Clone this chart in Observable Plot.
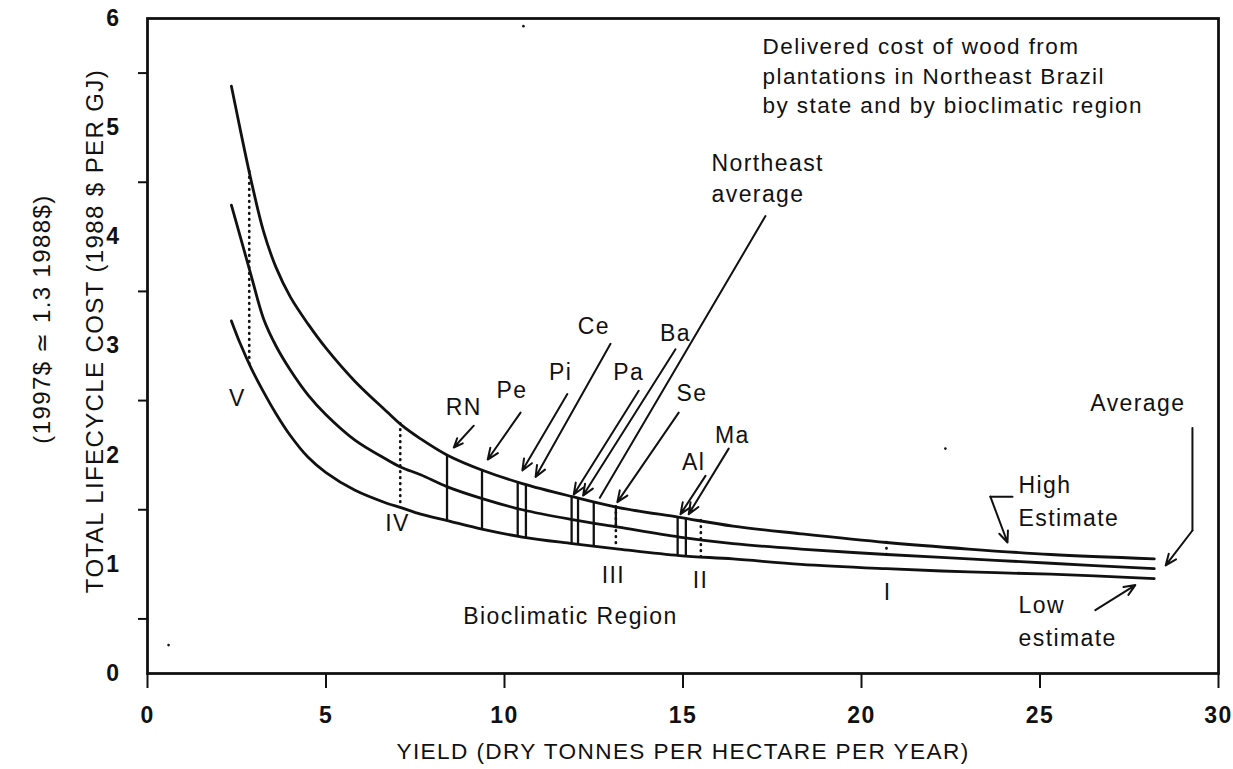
<!DOCTYPE html>
<html><head><meta charset="utf-8">
<script src="https://cdn.jsdelivr.net/npm/d3@7"></script>
<script src="https://cdn.jsdelivr.net/npm/@observablehq/plot@0.6"></script>
<style>body{margin:0;background:#fff}</style>
</head><body><div id="chart"></div>
<script>
// ---- curve data (yield in t/ha/yr, cost in 1988 $/GJ) ----
const yieldX   = [2.35, 2.6, 2.9, 3.25, 3.6, 4.0, 4.5, 5.0, 5.8, 6.7, 7.1, 7.65, 8.4, 9.4, 10.5, 11.9, 13.2, 14.9, 16.4, 18.3, 20.7, 23.0, 25.3, 28.2];
const highCost = [5.38, 4.98, 4.52, 4.05, 3.72, 3.45, 3.20, 2.98, 2.68, 2.40, 2.28, 2.15, 2.00, 1.86, 1.74, 1.62, 1.52, 1.43, 1.35, 1.28, 1.20, 1.14, 1.09, 1.05];
const avgCost  = [4.29, 4.00, 3.65, 3.25, 3.00, 2.78, 2.55, 2.37, 2.14, 1.96, 1.89, 1.82, 1.71, 1.60, 1.50, 1.41, 1.34, 1.25, 1.19, 1.14, 1.09, 1.05, 1.01, 0.96];
const lowCost  = [3.23, 3.02, 2.80, 2.58, 2.38, 2.18, 1.98, 1.84, 1.68, 1.56, 1.52, 1.46, 1.40, 1.32, 1.25, 1.19, 1.14, 1.08, 1.05, 1.00, 0.96, 0.93, 0.91, 0.87];

// ---- axes ----
const xTickValues = [0, 5, 10, 15, 20, 25, 30];
const yTickValues = [0, 1, 2, 3, 4, 5, 6];
const yMinorTicks = [0.5, 1.5, 2.5, 3.5, 4.5, 5.5];
const xAxisTitle = "YIELD (DRY TONNES PER HECTARE PER YEAR)";
const yAxisTitle = "TOTAL LIFECYCLE COST (1988 $ PER GJ)";
const yAxisSubtitle = "(1997$ \u2243 1.3 1988$)";

// ---- states ----
const stateCodes  = ["RN", "Pe", "Pi", "Ce", "Pa", "Ba", "Se", "Al", "Ma"];
const stateYield  = [8.39, 9.37, 10.37, 10.60, 11.88, 12.06, 13.12, 14.85, 15.08];
const stateLabelX = [8.86, 10.21, 11.57, 12.50, 13.48, 14.79, 15.25, 15.30, 16.38];
const stateLabelY = [2.44, 2.59, 2.76, 3.18, 2.76, 3.11, 2.56, 1.93, 2.18];
const stateArrowX1 = [9.14, 10.45, 11.76, 12.97, 13.76, 14.79, 14.88, 15.63, 16.28];
const stateArrowY1 = [2.27, 2.39, 2.56, 3.02, 2.59, 2.97, 2.39, 1.81, 2.06];
const stateArrowX2 = [8.58, 9.53, 10.50, 10.87, 11.94, 12.20, 13.16, 14.93, 15.16];
const stateArrowY2 = [2.07, 1.96, 1.86, 1.80, 1.64, 1.63, 1.57, 1.46, 1.46];

// ---- Northeast average ----
const neYield = 12.50;
const neLabel = ["Northeast", "average"];
const neLabelX = 15.8;
const neLabelY = [4.67, 4.39];
const neArrow = {x1: 17.31, y1: 4.19, x2: 12.67, y2: 1.61};

// ---- bioclimatic regions ----
const regionNames  = ["V", "IV", "III", "II", "I"];
const regionYield  = [2.85, 7.08, 13.12, 15.5, 20.7];
const regionToAvgOnly = [false, false, false, false, true];
const regionLabelX = [2.52, 7.0, 13.05, 15.49, 20.73];
const regionLabelY = [2.52, 1.37, 0.90, 0.85, 0.74];

// ---- other annotations ----
const noteLines = ["Delivered cost of wood from", "plantations in Northeast Brazil", "by state and by bioclimatic region"];
const noteX = 17.23;
const noteY = [5.74, 5.47, 5.20];
const sideTexts = ["Average", "High", "Estimate", "Low", "estimate"];
const sideX = [26.41, 24.40, 24.40, 24.40, 24.40];
const sideY = [2.47, 1.72, 1.42, 0.62, 0.32];
const regionTitle = "Bioclimatic Region";
const regionTitleX = 11.85, regionTitleY = 0.52;
const avgPointer = {xs: [29.27, 29.27], ys: [2.25, 1.31], ax1: 29.27, ay1: 1.31, ax2: 28.52, ay2: 0.99};
const highPointer = {xs: [24.23, 23.61], ys: [1.62, 1.62], ax1: 23.61, ay1: 1.62, ax2: 24.09, ay2: 1.20};
const lowPointer = {ax1: 26.55, ay1: 0.58, ax2: 27.67, ay2: 0.81};
const specks = [[10.53, 5.93], [22.35, 2.06], [0.59, 0.26]];

// ---- helpers ----
function at(series, x) {
  for (let i = 0; i < yieldX.length - 1; i++) {
    if (x >= yieldX[i] && x <= yieldX[i + 1]) {
      const t = (x - yieldX[i]) / (yieldX[i + 1] - yieldX[i]);
      return series[i] + t * (series[i + 1] - series[i]);
    }
  }
  return series[series.length - 1];
}
const curves = [
  ...yieldX.map((x, i) => ({x, y: highCost[i], s: "High"})),
  ...yieldX.map((x, i) => ({x, y: avgCost[i], s: "Average"})),
  ...yieldX.map((x, i) => ({x, y: lowCost[i], s: "Low"}))
];
const stateRows = stateCodes.map((c, i) => ({
  c, x: stateYield[i], yTop: at(highCost, stateYield[i]),
  yBot: c === "Se" ? at(avgCost, stateYield[i]) : at(lowCost, stateYield[i]),
  lx: stateLabelX[i], ly: stateLabelY[i],
  x1: stateArrowX1[i], y1: stateArrowY1[i], x2: stateArrowX2[i], y2: stateArrowY2[i]
}));
const regionRows = regionNames.map((n, i) => ({
  n, x: regionYield[i], yTop: at(highCost, regionYield[i]),
  yBot: regionToAvgOnly[i] ? at(avgCost, regionYield[i]) : at(lowCost, regionYield[i]),
  lx: regionLabelX[i], ly: regionLabelY[i]
}));
const sideRows = sideTexts.map((t, i) => ({t, x: sideX[i], y: sideY[i]}));

const FONT = "'Liberation Sans', Arial, Helvetica, sans-serif";
const INK = "#111";
const TS = 23; // annotation font size
const arrowOpts = {stroke: INK, strokeWidth: 2, headLength: 9, headAngle: 45};

const chart = Plot.plot({
  width: 1233,
  height: 769,
  marginLeft: 147,
  marginRight: 15,
  marginTop: 18,
  marginBottom: 96,
  style: {fontFamily: FONT, background: "#fff", color: INK, letterSpacing: "1.4px"},
  x: {domain: [0, 30]},
  y: {domain: [0, 6]},
  marks: [
    Plot.axisX({ticks: xTickValues, tickSize: 15, tickPadding: 18, tickFormat: d => d, fontSize: 23, fontWeight: "bold", strokeWidth: 2, label: null}),
    Plot.axisY({ticks: yTickValues, tickSize: 0, tickPadding: 27, tickFormat: d => d, fontSize: 23, fontWeight: "bold", label: null}),
    Plot.axisY({ticks: yMinorTicks, tickSize: 9, tickFormat: () => "", strokeWidth: 2, label: null}),
    Plot.text([xAxisTitle], {frameAnchor: "bottom", dy: 85, fontSize: 22.6, fill: INK}),
    Plot.text([yAxisTitle], {frameAnchor: "left", textAnchor: "middle", rotate: -90, dx: -52, dy: -15, fontSize: 24, fill: INK}),
    Plot.text([yAxisSubtitle], {frameAnchor: "left", textAnchor: "middle", rotate: -90, dx: -105, dy: -27, fontSize: 24, fill: INK}),
    Plot.frame({stroke: INK, strokeWidth: 2.8}),

    // curves
    Plot.line(curves, {x: "x", y: "y", z: "s", curve: "catmull-rom", stroke: INK, strokeWidth: 2.8}),

    // state lines
    Plot.ruleX(stateRows, {x: "x", y1: "yTop", y2: "yBot", stroke: INK, strokeWidth: 2.3}),
    Plot.ruleX([neYield], {x: d => d, y1: at(highCost, neYield), y2: at(lowCost, neYield), stroke: INK, strokeWidth: 2.3}),

    // region boundaries (dotted)
    Plot.ruleX(regionRows, {x: "x", y1: "yTop", y2: "yBot", stroke: INK, strokeWidth: 2.7, strokeDasharray: "0.5,5.5", strokeLinecap: "round"}),

    // state arrows and labels
    Plot.arrow(stateRows, {x1: "x1", y1: "y1", x2: "x2", y2: "y2", ...arrowOpts}),
    Plot.text(stateRows, {x: "lx", y: "ly", text: "c", fontSize: TS, fill: INK}),

    // northeast average
    Plot.arrow([neArrow], {x1: "x1", y1: "y1", x2: "x2", y2: "y2", stroke: INK, strokeWidth: 2, headLength: 0}),
    Plot.text(neLabel, {x: neLabelX, y: (d, i) => neLabelY[i], text: d => d, textAnchor: "start", fontSize: TS, fill: INK}),

    // region labels
    Plot.text(regionRows, {x: "lx", y: "ly", text: "n", fontSize: TS, fill: INK}),
    Plot.text([regionTitle], {x: regionTitleX, y: regionTitleY, text: d => d, fontSize: TS, fill: INK}),

    // note
    Plot.text(noteLines, {x: noteX, y: (d, i) => noteY[i], text: d => d, textAnchor: "start", fontSize: 22.5, fill: INK}),

    // side annotations
    Plot.text(sideRows, {x: "x", y: "y", text: "t", textAnchor: "start", fontSize: TS, fill: INK}),
    Plot.line(avgPointer.xs.map((x, i) => ({x, y: avgPointer.ys[i]})), {x: "x", y: "y", stroke: INK, strokeWidth: 2}),
    Plot.arrow([avgPointer], {x1: "ax1", y1: "ay1", x2: "ax2", y2: "ay2", ...arrowOpts}),
    Plot.line(highPointer.xs.map((x, i) => ({x, y: highPointer.ys[i]})), {x: "x", y: "y", stroke: INK, strokeWidth: 2}),
    Plot.arrow([highPointer], {x1: "ax1", y1: "ay1", x2: "ax2", y2: "ay2", ...arrowOpts}),
    Plot.arrow([lowPointer], {x1: "ax1", y1: "ay1", x2: "ax2", y2: "ay2", ...arrowOpts}),

    // scan specks
    Plot.dot(specks, {x: d => d[0], y: d => d[1], r: 1.3, fill: INK})
  ]
});
document.getElementById("chart").append(chart);
</script>
</body></html>
